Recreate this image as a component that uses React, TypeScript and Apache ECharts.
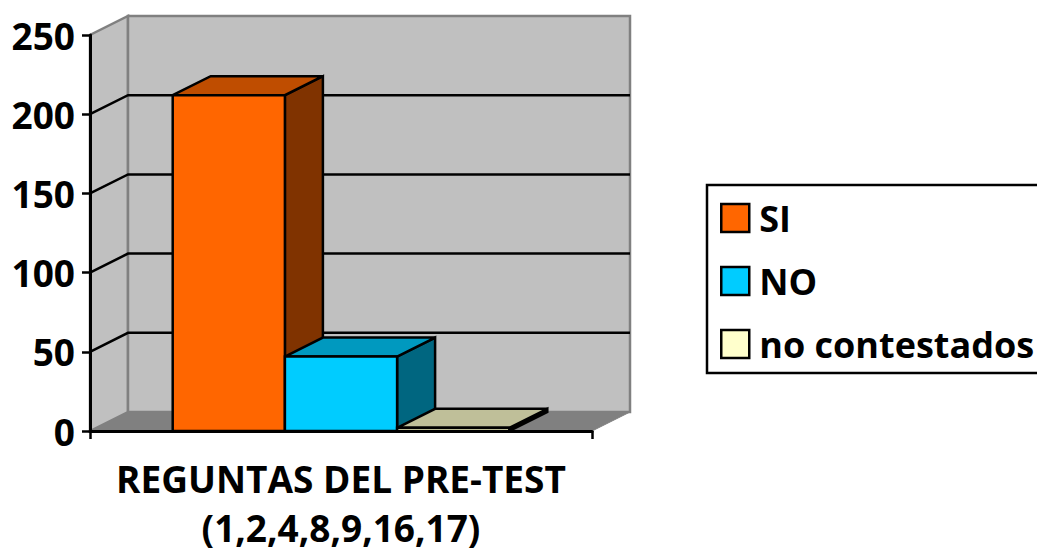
import React, { useEffect, useRef } from "react";
import * as echarts from "echarts";

const categories = ["REGUNTAS DEL PRE-TEST"];
const axisSubtitle = "(1,2,4,8,9,16,17)";
const seriesNames = ["SI", "NO", "no contestados"];
const siValues = [212];
const noValues = [47];
const noContestadosValues = [2];
const yTicks = [50, 100, 150, 200, 250];
const faceColors = ["#FF6600", "#00CCFF", "#FFFFCC"];
const topColors = ["#BF4D00", "#0099BF", "#BFBF99"];
const sideColors = ["#803300", "#006680", "#000000"];

const DX = 38;
const DY = -19;
const FONT = "'Open Sans', Lato, sans-serif";

function poly(points: number[][], fill: string, stroke: string, lineWidth: number) {
  return {
    type: "polygon",
    shape: { points },
    style: { fill, stroke, lineWidth, lineJoin: "miter" },
  };
}

function renderWalls(_p: any, api: any) {
  const [x0, y0] = api.coord([0, 0]);
  const w = api.size([1, 0])[0];
  const x1 = x0 - w / 2;
  const x2 = x0 + w / 2;
  const yTop = api.coord([0, 250])[1];
  const wall = "#C0C0C0";
  const edge = "#808080";
  return {
    type: "group",
    children: [
      poly([[x1, y0], [x1 + DX, y0 + DY], [x2 + DX, y0 + DY], [x2, y0]], "#808080", "#808080", 1),
      poly([[x1, y0], [x1, yTop], [x1 + DX, yTop + DY], [x1 + DX, y0 + DY]], wall, edge, 2.5),
      poly([[x1 + DX, yTop + DY], [x2 + DX, yTop + DY], [x2 + DX, y0 + DY], [x1 + DX, y0 + DY]], wall, edge, 2.5),
    ],
  };
}

function renderGridline(_p: any, api: any) {
  const [cx, y] = api.coord([0, api.value(1)]);
  const w = api.size([1, 0])[0];
  const x1 = cx - w / 2;
  const x2 = cx + w / 2;
  return {
    type: "polyline",
    shape: { points: [[x1, y], [x1 + DX, y + DY], [x2 + DX, y + DY]] },
    style: { fill: "none", stroke: "#000", lineWidth: 2.5 },
  };
}

function makeBarRenderer(index: number) {
  return (_p: any, api: any) => {
    const [cx, y0] = api.coord([api.value(0), 0]);
    const y1 = api.coord([api.value(0), api.value(1)])[1];
    const w = api.size([1, 0])[0];
    const barW = w * 0.2235;
    const xa = cx - 1.5 * barW + index * barW;
    const xb = xa + barW;
    return {
      type: "group",
      children: [
        poly([[xb, y1], [xb + DX, y1 + DY], [xb + DX, y0 + DY], [xb, y0]], sideColors[index], "#000", 2.5),
        poly([[xa, y1], [xa + DX, y1 + DY], [xb + DX, y1 + DY], [xb, y1]], topColors[index], "#000", 2.5),
        poly([[xa, y1], [xb, y1], [xb, y0], [xa, y0]], faceColors[index], "#000", 2.5),
      ],
    };
  };
}

export default function App() {
  const ref = useRef<HTMLDivElement>(null);
  useEffect(() => {
    const chart = echarts.init(ref.current!, undefined, { renderer: "svg" });
    const values = [siValues, noValues, noContestadosValues];
    chart.setOption({
      animation: false,
      backgroundColor: "#fff",
      grid: { left: 90, top: 35, width: 502, height: 396, outerBoundsMode: "none" },
      xAxis: {
        type: "category",
        data: categories,
        z: 5,
        name: axisSubtitle,
        nameLocation: "middle",
        nameGap: 78,
        nameTextStyle: {
          color: "#000",
          fontFamily: FONT,
          fontWeight: 700,
          fontSize: 37,
          lineHeight: 36,
        },
        axisLine: { lineStyle: { color: "#000", width: 3 } },
        axisTick: { show: true, length: 8, alignWithLabel: false, lineStyle: { color: "#000", width: 2.5 } },
        axisLabel: {
          color: "#000",
          fontFamily: FONT,
          fontWeight: 700,
          fontSize: 37,
          lineHeight: 37,
          margin: 29,
          interval: 0,
        },
      },
      yAxis: {
        type: "value",
        min: 0,
        max: 250,
        interval: 50,
        z: 5,
        splitLine: { show: false },
        axisLine: { show: true, lineStyle: { color: "#000", width: 3 } },
        axisTick: { show: true, length: 8, lineStyle: { color: "#000", width: 2.5 } },
        axisLabel: {
          color: "#000",
          fontFamily: FONT,
          fontWeight: 700,
          fontSize: 37,
          margin: 15,
        },
      },
      legend: {
        orient: "vertical",
        left: 720,
        top: 200,
        padding: 0,
        itemWidth: 28,
        itemHeight: 28,
        itemGap: 27,
        icon: "rect",
        selectedMode: false,
        textStyle: {
          color: "#000",
          fontFamily: FONT,
          fontWeight: 700,
          fontSize: 36,
          lineHeight: 25,
          padding: [11, 0, 0, 5],
        },
        data: seriesNames.map((name, i) => ({
          name,
          itemStyle: { color: faceColors[i], borderColor: "#000", borderWidth: 2.5 },
        })),
      },
      graphic: [
        {
          type: "rect",
          silent: true,
          shape: { x: 707, y: 185, width: 340, height: 188 },
          style: { fill: "none", stroke: "#000", lineWidth: 2.5 },
        },
      ],
      series: [
        {
          name: "walls",
          type: "custom",
          z: 1,
          data: [[0, 0]],
          renderItem: renderWalls,
          silent: true,
        },
        {
          name: "gridlines",
          type: "custom",
          z: 1.5,
          data: yTicks.slice(0, -1).map((t) => [0, t]),
          renderItem: renderGridline,
          silent: true,
        },
        ...seriesNames.map((name, i) => ({
          name,
          type: "custom",
          z: 2 + i,
          data: values[i].map((v, k) => [k, v]),
          itemStyle: { color: faceColors[i] },
          renderItem: makeBarRenderer(i),
        })),
      ],
    });
    return () => chart.dispose();
  }, []);
  return <div ref={ref} style={{ position: "absolute", left: 0, top: 0, width: 1037, height: 552 }} />;
}
